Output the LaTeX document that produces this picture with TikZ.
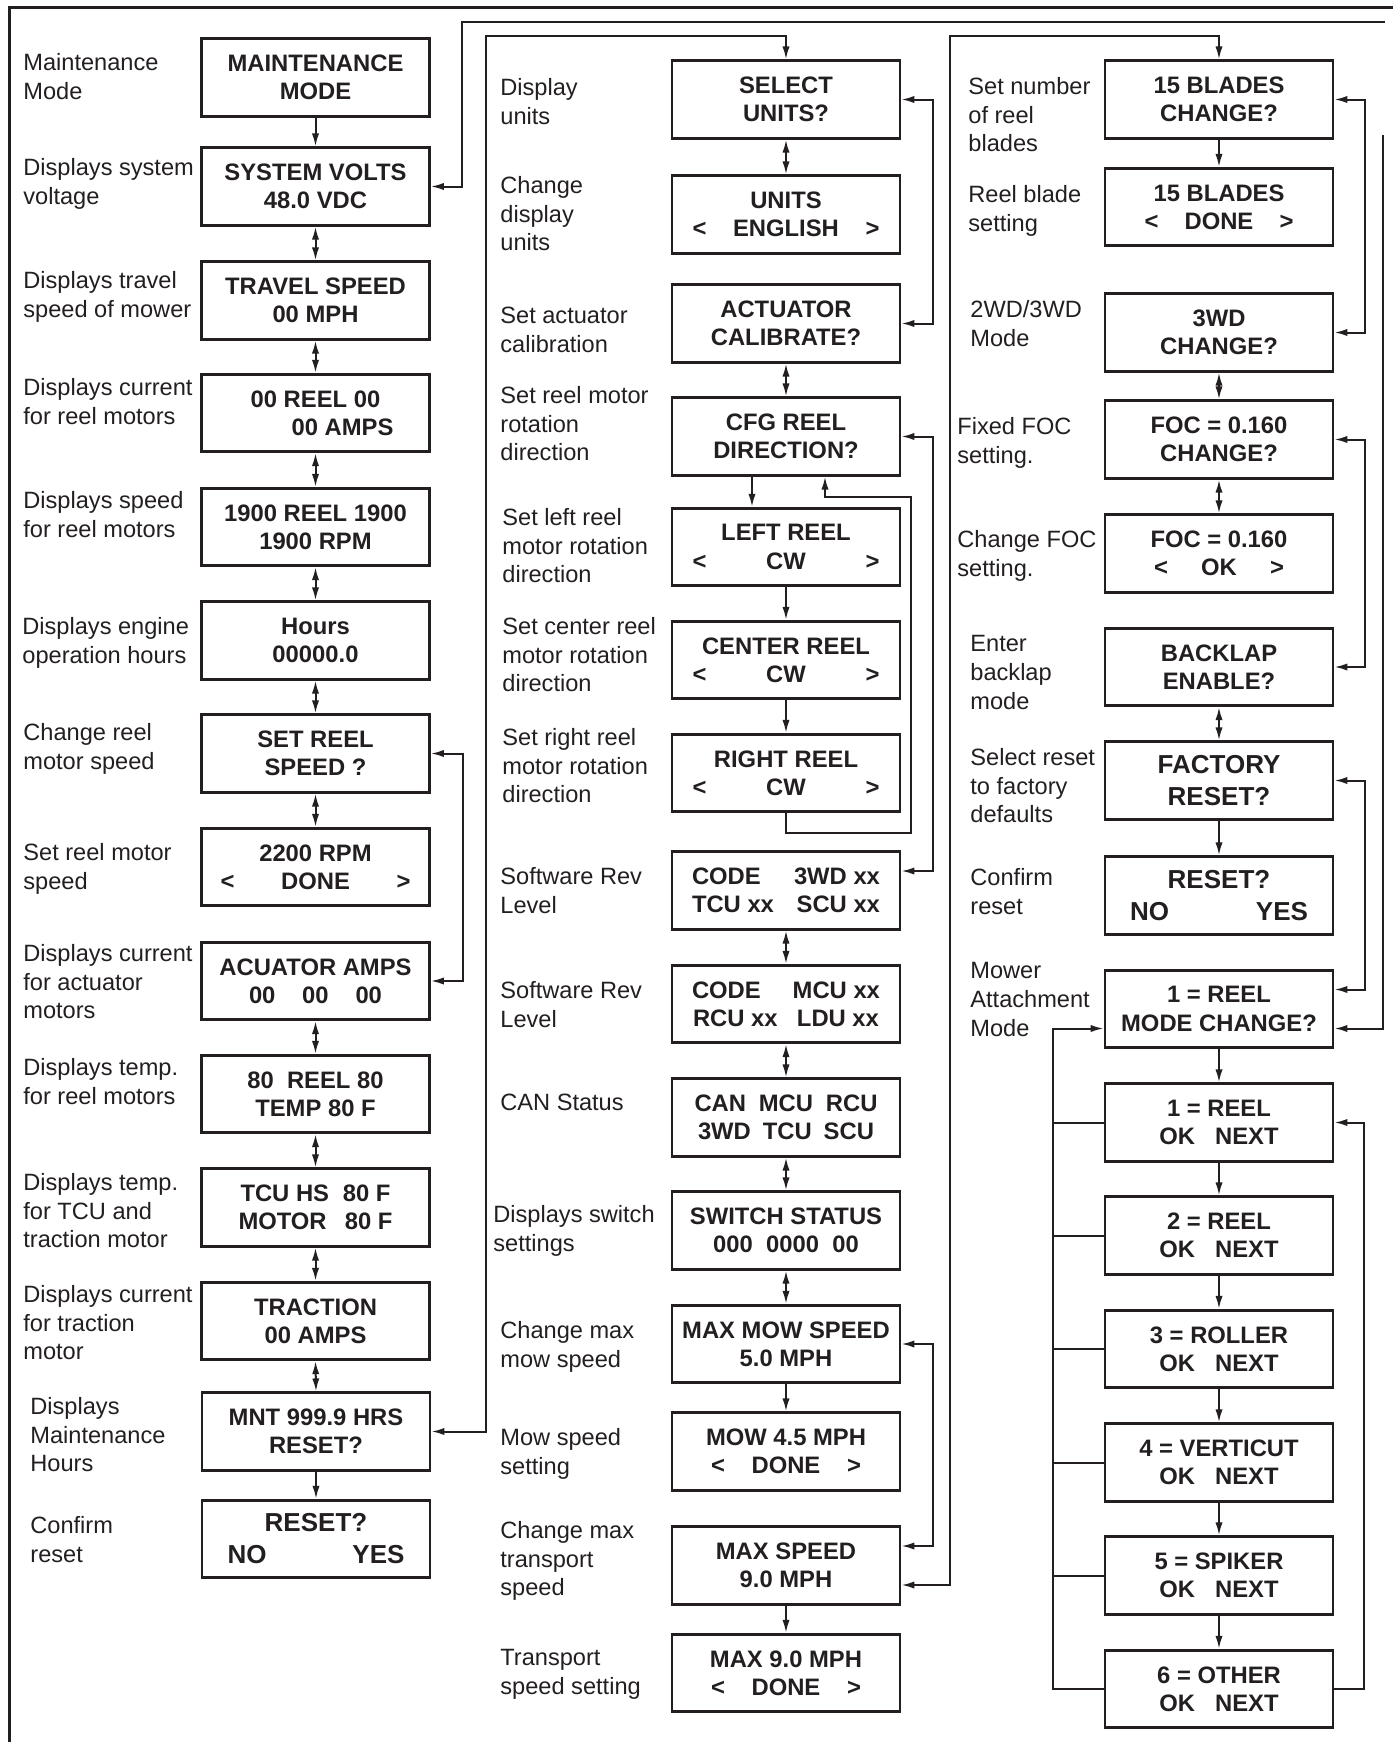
\documentclass[tikz,border=0pt]{standalone}
\usepackage{fontspec}
\setmainfont{Liberation Sans}
\usetikzlibrary{arrows.meta,calc}
\definecolor{ink}{RGB}{35,31,32}
\begin{document}
\begin{tikzpicture}[x=0.5pt,y=-0.5pt,
  box/.style={draw=ink, line width=1.3pt, minimum width=114pt, minimum height=38.75pt, inner sep=0pt, align=center, text=ink, font=\fontsize{11.9}{14.15}\selectfont\bfseries},
  bigbox/.style={box, font=\fontsize{13}{16}\selectfont\bfseries},
  lbl/.style={anchor=north west, inner sep=0pt, align=left, text=ink, font=\fontsize{11.8}{14.35}\selectfont},
  conn/.style={draw=ink, line width=1pt},
  arr/.style={conn, -{Latex[length=6.5pt,width=3.6pt]}},
  arrr/.style={conn, {Latex[length=6.5pt,width=3.6pt]}-{Latex[length=6.5pt,width=3.6pt]}}]
\useasboundingbox (0,0) rectangle (1393,1742);
\draw[ink, line width=1.5pt] (9,1742) -- (9,7) -- (1393,7);

% ---------- column 1 boxes ----------
\node[box] (b1) at (315.5,77.5) {MAINTENANCE\\MODE};
\node[box] (b2) at (315.5,186.5) {SYSTEM VOLTS\\48.0 VDC};
\node[box] (b3) at (315.5,300.5) {TRAVEL SPEED\\00 MPH};
\node[box] (b4) at (315.5,413) {00 REEL 00\\\makebox[78pt][r]{00 AMPS}};
\node[box] (b5) at (315.5,527) {1900 REEL 1900\\1900 RPM};
\node[box] (b6) at (315.5,640.5) {Hours\\00000.0};
\node[box] (b7) at (315.5,753.5) {SET REEL\\SPEED ?};
\node[box] (b8) at (315.5,867) {2200 RPM\\\makebox[95pt]{<\hfill DONE\hfill >}};
\node[box] (b9) at (315.5,981) {ACUATOR AMPS\\\makebox[66.5pt]{00\hfill 00\hfill 00}};
\node[box] (b10) at (315.5,1094) {80\ \ REEL 80\\TEMP 80 F};
\node[box] (b11) at (315.5,1207.5) {\makebox[75pt]{TCU HS\hfill 80 F}\\\makebox[77pt]{MOTOR\hfill 80 F}};
\node[box] (b12) at (315.5,1321) {TRACTION\\00 AMPS};
\node[box] (b13) at (316,1431.5) {MNT 999.9 HRS\\RESET?};
\node[bigbox] (b14) at (316,1539) {RESET?\\\makebox[88.5pt]{NO\hfill YES}};

% ---------- column 2 boxes ----------
\node[box] (c1) at (786,99.5) {SELECT\\UNITS?};
\node[box] (c2) at (786,214.5) {UNITS\\\makebox[93.5pt]{<\hfill ENGLISH\hfill >}};
\node[box] (c3) at (786,323.5) {ACTUATOR\\CALIBRATE?};
\node[box] (c4) at (786,436.5) {CFG REEL\\DIRECTION?};
\node[box] (c5) at (786,547) {LEFT REEL\\\makebox[93.5pt]{<\hfill CW\hfill >}};
\node[box] (c6) at (786,660) {CENTER REEL\\\makebox[93.5pt]{<\hfill CW\hfill >}};
\node[box] (c7) at (786,773) {RIGHT REEL\\\makebox[93.5pt]{<\hfill CW\hfill >}};
\node[box] (c8) at (786,890.5) {\makebox[94pt]{CODE\hfill 3WD xx}\\\makebox[94pt]{TCU xx\hfill SCU xx}};
\node[box] (c9) at (786,1004) {\makebox[94pt]{CODE\hfill MCU xx}\\\makebox[93pt]{RCU xx\hfill LDU xx}};
\node[box] (c10) at (786,1117.5) {\makebox[91.5pt]{CAN\hfill MCU\hfill RCU}\\\makebox[88pt]{3WD\hfill TCU\hfill SCU}};
\node[box] (c11) at (786,1230.5) {SWITCH STATUS\\000\ \ 0000\ \ 00};
\node[box] (c12) at (786,1344) {MAX MOW SPEED\\5.0 MPH};
\node[box] (c13) at (786,1451.5) {MOW 4.5 MPH\\\makebox[75pt]{<\hfill DONE\hfill >}};
\node[box] (c14) at (786,1565.5) {MAX SPEED\\9.0 MPH};
\node[box] (c15) at (786,1673) {MAX 9.0 MPH\\\makebox[75pt]{<\hfill DONE\hfill >}};

% ---------- column 3 boxes ----------
\node[box] (d1) at (1219,99.5) {15 BLADES\\CHANGE?};
\node[box] (d2) at (1219,207) {15 BLADES\\\makebox[74.5pt]{<\hfill DONE\hfill >}};
\node[box] (d3) at (1219,332.5) {3WD\\CHANGE?};
\node[box] (d4) at (1219,439.5) {FOC = 0.160\\CHANGE?};
\node[box] (d5) at (1219,553.5) {FOC = 0.160\\\makebox[65pt]{<\hfill OK\hfill >}};
\node[box] (d6) at (1219,667) {BACKLAP\\ENABLE?};
\node[bigbox] (d7) at (1219,780.5) {FACTORY\\RESET?};
\node[bigbox] (d8) at (1219,895.5) {RESET?\\\makebox[89pt]{NO\hfill YES}};
\node[box] (d9) at (1219,1009) {1 = REEL\\MODE CHANGE?};
\node[box] (d10) at (1219,1122.5) {1 = REEL\\OK\hspace{10pt}NEXT};
\node[box] (d11) at (1219,1235.5) {2 = REEL\\OK\hspace{10pt}NEXT};
\node[box] (d12) at (1219,1349) {3 = ROLLER\\OK\hspace{10pt}NEXT};
\node[box] (d13) at (1219,1462.5) {4 = VERTICUT\\OK\hspace{10pt}NEXT};
\node[box] (d14) at (1219,1575.5) {5 = SPIKER\\OK\hspace{10pt}NEXT};
\node[box] (d15) at (1219,1689) {6 = OTHER\\OK\hspace{10pt}NEXT};

% ---------- labels ----------
\node[lbl] (l1) at (23,53) {Maintenance\\Mode};
\node[lbl] (l2) at (23,158) {Displays system\\voltage};
\node[lbl] (l3) at (23,271) {Displays travel\\speed of mower};
\node[lbl] (l4) at (23,378) {Displays current\\for reel motors};
\node[lbl] (l5) at (23,491) {Displays speed\\for reel motors};
\node[lbl] (l6) at (22,617) {Displays engine\\operation hours};
\node[lbl] (l7) at (23,723) {Change reel\\motor speed};
\node[lbl] (l8) at (23,843) {Set reel motor\\speed};
\node[lbl] (l9) at (23,944) {Displays current\\for actuator\\motors};
\node[lbl] (l10) at (23,1058) {Displays temp.\\for reel motors};
\node[lbl] (l11) at (23,1173) {Displays temp.\\for TCU and\\traction motor};
\node[lbl] (l12) at (23,1285) {Displays current\\for traction\\motor};
\node[lbl] (l13) at (30,1397) {Displays\\Maintenance\\Hours};
\node[lbl] (l14) at (30,1516) {Confirm\\reset};

\node[lbl] (m1) at (500,78) {Display\\units};
\node[lbl] (m2) at (500,176) {Change\\display\\units};
\node[lbl] (m3) at (500,307) {Set actuator\\calibration};
\node[lbl] (m4) at (500,386) {Set reel motor\\rotation\\direction};
\node[lbl] (m5) at (502,508) {Set left reel\\motor rotation\\direction};
\node[lbl] (m6) at (502,617) {Set center reel\\motor rotation\\direction};
\node[lbl] (m7) at (502,728) {Set right reel\\motor rotation\\direction};
\node[lbl] (m8) at (500,867) {Software Rev\\Level};
\node[lbl] (m9) at (500,981) {Software Rev\\Level};
\node[lbl] (m10) at (500,1094) {CAN Status};
\node[lbl] (m11) at (493,1205) {Displays switch\\settings};
\node[lbl] (m12) at (500,1321) {Change max\\mow speed};
\node[lbl] (m13) at (500,1428) {Mow speed\\setting};
\node[lbl] (m14) at (500,1521) {Change max\\transport\\speed};
\node[lbl] (m15) at (500,1649) {Transport\\speed setting};

\node[lbl] (n1) at (968,77) {Set number\\of reel\\blades};
\node[lbl] (n2) at (968,185) {Reel blade\\setting};
\node[lbl] (n3) at (970,300) {2WD/3WD\\Mode};
\node[lbl] (n4) at (957,417) {Fixed FOC\\setting.};
\node[lbl] (n5) at (957,530) {Change FOC\\setting.};
\node[lbl] (n6) at (970,635) {Enter\\backlap\\mode};
\node[lbl] (n7) at (970,748) {Select reset\\to factory\\defaults};
\node[lbl] (n8) at (970,868) {Confirm\\reset};
\node[lbl] (n9) at (970,962) {Mower\\Attachment\\Mode};

% ---------- vertical connectors ----------
\foreach \a/\b in {b2/b3,b3/b4,b4/b5,b5/b6,b6/b7,b7/b8,b9/b10,b10/b11,b11/b12,b12/b13,
                   c1/c2,c3/c4,c8/c9,c9/c10,c10/c11,c11/c12,
                   d3/d4,d4/d5,d6/d7}
  \draw[arrr] (\a.south) -- (\b.north);
\foreach \a/\b in {b1/b2,b13/b14,c5/c6,c6/c7,c12/c13,c14/c15,
                   d1/d2,d7/d8,d9/d10,d10/d11,d11/d12,d12/d13,d13/d14,d14/d15}
  \draw[arr] (\a.south) -- (\b.north);
\draw[arr] ([xshift=-17pt]c4.south) -- ([xshift=-17pt]c5.north);

% ---------- side brackets ----------
\draw[arrr] (b7.east) -- ++(32,0) |- (b9.east);
\draw[arrr] (c1.east) -- ++(32,0) |- (c3.east);
\draw[arrr] (c4.east) -- ++(32,0) |- ([yshift=9.75pt]c8.east);
\draw[arrr] (c12.east) -- ++(32,0) |- ([yshift=9.75pt]c14.east);
\draw[arrr] (d1.east) -- ++(31,0) |- (d3.east);
\draw[arrr] (d4.east) -- ++(31,0) |- (d6.east);
\draw[arrr] (d7.east) -- ++(31,0) |- ([yshift=9.75pt]d9.east);

% ---------- long loops ----------
\coordinate (sysend) at (1385,22);
\draw[arr] (sysend) -- (462,22) |- (b2.east);
\draw[arrr] (b13.east) -| (486,36) -| (c1.north);
\draw[arrr] ([yshift=-9.75pt]c14.east) -| (950,36) -| (d1.north);
\draw[arr] (c7.south) |- (911,833) -- (911,497) -| ([xshift=19.5pt]c4.south);
\coordinate (modetop) at (1383,135);
\draw[arr] (modetop) |- ([yshift=-9.75pt]d9.east);

% ---------- attachment mode loops ----------
\draw[arr] (d15.west) -| (1053,1028.5) -- ([yshift=-9.75pt]d9.west);
\foreach \n in {d10,d11,d12,d13,d14}
  \draw[conn] (\n.west) -- ++(-52,0);
\draw[arr] (d15.east) -- ++(30,0) |- (d10.east);
\end{tikzpicture}
\end{document}
